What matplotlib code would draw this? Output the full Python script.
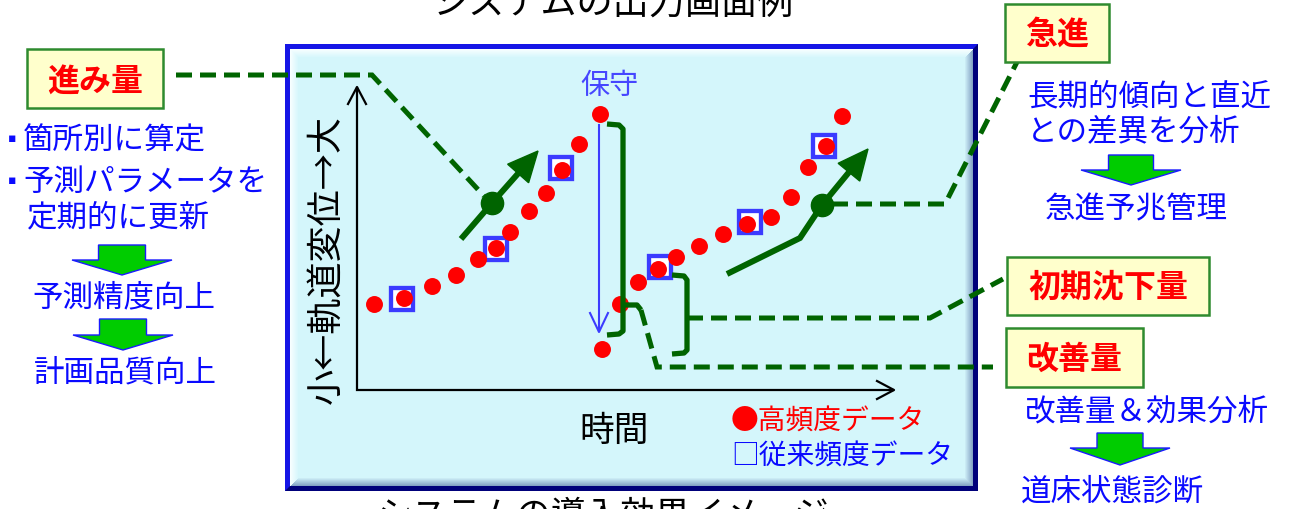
import matplotlib.pyplot as plt
import numpy as np
from matplotlib.patches import Rectangle, Polygon

plt.rcParams['font.family'] = ['Noto Sans CJK JP', 'DejaVu Sans']

# 高頻度データ: 時間, 軌道変位
high_t = [17, 47, 75, 99, 121, 139, 153, 172, 189, 205, 222, 243,
          245, 263, 281, 301, 319, 342, 366, 390, 414, 434, 451, 469, 485]
high_d = [86, 92, 104, 115, 131, 142, 158, 179, 197, 220, 246, 276,
          41, 86, 108, 121, 133, 144, 156, 166, 173, 193, 223, 244, 274]

# 従来頻度データ
conv_t = [45, 139, 204, 303, 393, 467]
conv_d = [91, 141, 222, 123, 168, 244]

# 傾向線 (進み量 / 急進), knot = 分岐点
trend1_t = [104, 135, 181]
trend1_d = [151, 187, 239]
trend1_knot = 1
trend2_t = [370, 443, 465, 511]
trend2_d = [116, 152, 185, 241]
trend2_knot = 2

W, H = 1290, 509
GREEN = '#006400'
BLUE = '#0a0aff'
RED = '#ff0000'


def bevel(w, h, depth=8):
    yy, xx = np.mgrid[0:h, 0:w].astype(float)
    face = np.array([0.835, 0.965, 0.988])
    hi = np.array([0.97, 1.0, 1.0])
    lo = np.array([0.52, 0.64, 0.77])
    dist = np.stack([yy, xx, h - 1 - yy, w - 1 - xx])
    near = dist.argmin(0)
    k = np.clip(1 - dist.min(0) / depth, 0, 1)[..., None]
    shade = np.where((near < 2)[..., None], hi, lo)
    return face * (1 - k) + shade * k


def label_box(ax, x0, y0, x1, y1, text, ty):
    ax.add_patch(Rectangle((x0, y0), x1 - x0, y1 - y0, fc='#ffffcc',
                           ec='#2e8b2e', lw=1.8, zorder=3))
    ax.text((x0 + x1) / 2, ty, text, color=RED, fontsize=23,
            fontweight='bold', ha='center', va='center', zorder=4)


def down_arrow(ax, cx, top, shaft_w, head_w, shaft_h, head_h):
    pts = [(cx - shaft_w / 2, top), (cx + shaft_w / 2, top),
           (cx + shaft_w / 2, top + shaft_h), (cx + head_w / 2, top + shaft_h),
           (cx, top + shaft_h + head_h), (cx - head_w / 2, top + shaft_h),
           (cx - shaft_w / 2, top + shaft_h)]
    ax.add_patch(Polygon(pts, closed=True, fc='#00cc00', ec='#1a1aff',
                         lw=1.0, zorder=3))


def trend_arrow(ax, t, d, knot):
    t = np.asarray(t, float)
    d = np.asarray(d, float)
    u = np.array([t[-1] - t[-2], d[-1] - d[-2]])
    u /= np.hypot(*u)
    n = np.array([-u[1], u[0]])
    tip = np.array([t[-1], d[-1]])
    base = tip - 30 * u
    ax.plot(np.r_[t[:-1], base[0] + 3 * u[0]], np.r_[d[:-1], base[1] + 3 * u[1]],
            color=GREEN, lw=4.3, solid_capstyle='butt', solid_joinstyle='miter',
            zorder=4, clip_on=False)
    ax.add_patch(Polygon([tip, base + 14 * n, base - 14 * n], closed=True,
                         color=GREEN, zorder=4, clip_on=False))
    ax.plot(t[knot], d[knot], 'o', color=GREEN, ms=16, zorder=5, clip_on=False)


fig = plt.figure(figsize=(12.9, 5.09), dpi=100)

# background layer: frame of the screen
bg = fig.add_axes([0, 0, 1, 1])
bg.axis('off')
bg.add_patch(Rectangle((285, 44), 693, 447, fc='#00007a', ec='none', zorder=1))
bg.add_patch(Polygon([(285, 44), (978, 44), (973, 49), (290, 49), (290, 486),
                      (285, 491)], closed=True, fc='#1515e6', ec='none',
                     zorder=1))
bg.imshow(bevel(683, 437), extent=(290, 973, 486, 49), aspect='auto',
          interpolation='bilinear', zorder=2)
bg.set_xlim(0, W)
bg.set_ylim(H, 0)

# data layer: time vs track displacement
ax = fig.add_axes([357 / W, 1 - 390 / H, 536 / W, 303 / H])
ax.set_xlim(0, 536)
ax.set_ylim(0, 303)
ax.axis('off')
ax.plot(conv_t, conv_d, 's', ms=16.5, mfc='white', mec='#3b3bff', mew=3.1,
        zorder=2, clip_on=False)
ax.plot(high_t, high_d, 'o', ms=12.2, color=RED, mew=0, zorder=3, clip_on=False)
trend_arrow(ax, trend1_t, trend1_d, trend1_knot)
trend_arrow(ax, trend2_t, trend2_d, trend2_knot)

# annotation layer
top = fig.add_axes([0, 0, 1, 1])
top.set_xlim(0, W)
top.set_ylim(H, 0)
top.axis('off')
top.patch.set_visible(False)

# axis arrows
top.plot([357, 357, 893], [88, 390, 390], color='black', lw=1.6,
         solid_joinstyle='miter')
top.plot([348, 357, 366], [104, 87, 104], color='black', lw=1.6)
top.plot([877, 894, 877], [381, 390, 399], color='black', lw=1.6)

# 保守 arrow
top.plot([599, 599], [125, 331], color='#3c3cff', lw=1.5)
top.plot([590, 599, 608], [313, 332, 313], color='#3c3cff', lw=1.5)
top.text(609, 86, '保守', color='#4646ff', fontsize=21, ha='center', va='center')

# brackets
bk = dict(color=GREEN, lw=3.8, solid_joinstyle='round', solid_capstyle='butt')
top.plot([607, 619, 623, 623, 619, 607], [124, 125, 129, 331, 334, 335], **bk)
top.plot([623, 637, 641], [305, 305, 310], **bk)
top.plot([672, 684, 687, 687, 684, 672], [275, 276, 280, 350, 353, 354], **bk)

# leader lines
ld = dict(color=GREEN, lw=3.6, linestyle=(0, (3.2, 1.6)), dash_capstyle='butt',
          dash_joinstyle='miter')
top.plot([176, 372, 484], [75, 75, 196], **ld)
top.plot([832, 945, 1017], [204, 204, 62], **ld)
top.plot([687, 930, 1003], [318, 318, 279], **ld)
top.plot([641, 657, 993], [310, 367, 367], **ld)

# labelled boxes
label_box(top, 27, 49, 163, 108, '進み量', 82)
label_box(top, 1005, 4, 1109, 62, '急進', 35)
label_box(top, 1007, 257, 1209, 315, '初期沈下量', 287)
label_box(top, 1006, 328, 1143, 387, '改善量', 360)

# left notes
txt = dict(color=BLUE, fontsize=22, va='center')
bullet = dict(color=BLUE, fontsize=9, family='DejaVu Sans', ha='center',
              va='center')
top.text(12, 139, '▪', **bullet)
top.text(23, 141, '箇所別に算定', ha='left', **txt)
top.text(12, 180, '▪', **bullet)
top.text(23, 182, '予測パラメータを', ha='left', **txt)
top.text(27, 218, '定期的に更新', ha='left', **txt)
down_arrow(top, 122, 245, 47, 100, 15, 15)
top.text(124, 298, '予測精度向上', ha='center', **txt)
down_arrow(top, 123, 319, 47, 100, 16, 15)
top.text(125, 373, '計画品質向上', ha='center', **txt)

# right notes
top.text(1027, 97, '長期的傾向と直近', ha='left', **txt)
top.text(1027, 132, 'との差異を分析', ha='left', **txt)
down_arrow(top, 1131, 155, 45, 100, 15, 15)
top.text(1136, 210, '急進予兆管理', ha='center', **txt)
top.text(1147, 412, '改善量＆効果分析', ha='center', **txt)
down_arrow(top, 1120, 433, 46, 100, 15, 17)
top.text(1112, 492, '道床状態診断', ha='center', **txt)

# axis titles and legend
top.text(326, 260, '小←軌道変位→大', rotation=90, fontsize=26, ha='center',
         va='center', color='black')
top.text(614, 431, '時間', fontsize=25, ha='center', va='center', color='black')
top.text(731, 422, '●高頻度データ', fontsize=20, ha='left', va='center', color=RED)
top.text(731, 457, '□従来頻度データ', fontsize=20, ha='left', va='center',
         color=BLUE)

# captions above and below the screen
top.text(613, 5, 'システムの出力画面例', fontsize=26, ha='center', va='center',
         color='black')
top.text(603, 516, 'システムの導入効果イメージ', fontsize=25, ha='center',
         va='center', color='black')

plt.savefig('out.png', dpi=100)
